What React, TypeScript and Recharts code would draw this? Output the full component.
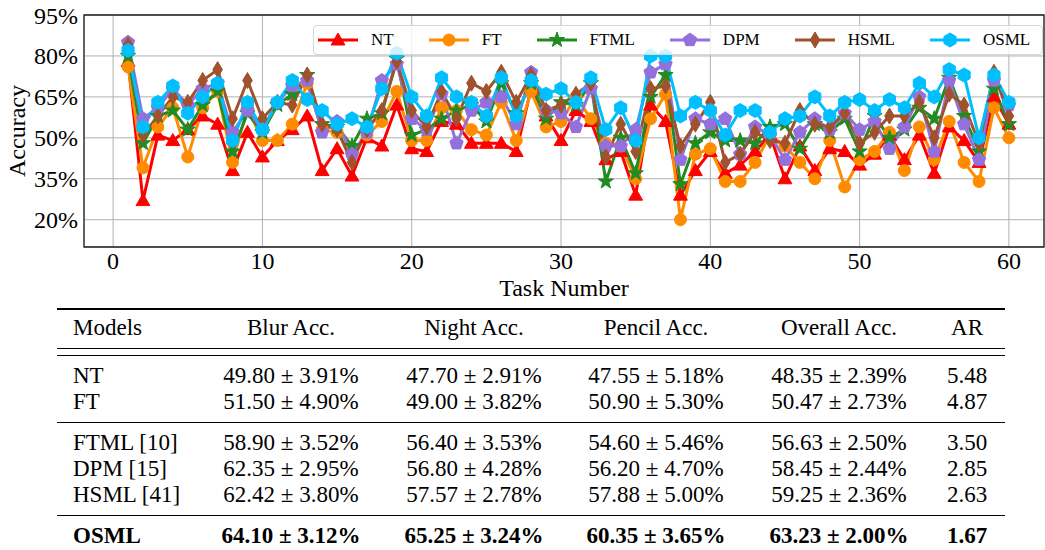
import React from "react";
import {
  LineChart,
  Line,
  XAxis,
  YAxis,
  CartesianGrid,
  ReferenceArea,
  Label,
} from "recharts";

// task index on the x axis
const tasks = [
  1, 2, 3, 4, 5, 6, 7, 8, 9, 10, 11, 12, 13, 14, 15, 16, 17, 18, 19, 20, 21,
  22, 23, 24, 25, 26, 27, 28, 29, 30, 31, 32, 33, 34, 35, 36, 37, 38, 39, 40,
  41, 42, 43, 44, 45, 46, 47, 48, 49, 50, 51, 52, 53, 54, 55, 56, 57, 58, 59,
  60,
];

// accuracy (%) per task
const ntAcc = [
  78, 27, 51, 49, 53, 58, 55, 38, 52, 43, 49, 53, 58, 38, 46, 36, 50, 47, 62,
  46, 45, 56, 55, 48, 48, 48, 45, 68, 58, 49, 60, 56, 42, 45, 29, 62, 56, 29,
  38, 45, 37, 40, 45, 51, 35, 47, 38, 46, 45, 40, 44, 51, 42, 51, 37, 54, 49,
  41, 65, 55,
];
const ftAcc = [
  76, 39, 54, 61, 43, 61, 67, 41, 61, 49, 49, 55, 70, 53, 52, 44, 51, 56, 67,
  49, 49, 61, 60, 53, 51, 63, 49, 67, 54, 56, 65, 57, 48, 47, 35, 57, 66, 20,
  44, 46, 34, 34, 41, 51, 47, 41, 35, 49, 32, 42, 45, 52, 38, 54, 42, 56, 41,
  34, 61, 50,
];
const ftmlAcc = [
  80, 48, 58, 60, 53, 62, 67, 45, 59, 52, 62, 66, 73, 55, 54, 47, 57, 59, 79,
  51, 53, 57, 60, 62, 56, 70, 59, 70, 57, 63, 62, 70, 34, 50, 37, 65, 73, 33,
  48, 52, 49, 49, 48, 54, 55, 46, 55, 52, 57, 45, 58, 50, 53, 61, 57, 72, 58,
  45, 68, 55,
];
const dpmAcc = [
  85, 57, 61, 68, 62, 68, 70, 52, 60, 53, 63, 69, 71, 52, 56, 44, 52, 71, 77,
  57, 53, 66, 48, 60, 63, 65, 55, 74, 60, 59, 54, 68, 47, 47, 53, 74, 77, 42,
  57, 55, 57, 44, 54, 51, 42, 52, 57, 53, 59, 53, 56, 46, 54, 65, 45, 71, 55,
  42, 71, 62,
];
const hsmlAcc = [
  84, 51, 58, 65, 63, 71, 75, 57, 71, 57, 63, 62, 73, 55, 53, 41, 53, 60, 78,
  60, 54, 67, 57, 70, 67, 74, 63, 73, 60, 62, 66, 70, 43, 55, 45, 68, 69, 47,
  55, 63, 41, 44, 52, 49, 48, 60, 55, 54, 59, 48, 52, 58, 58, 63, 50, 66, 62,
  48, 74, 58,
];
const osmlAcc = [
  82, 54, 63, 69, 59, 65, 70, 49, 63, 53, 63, 71, 64, 60, 55, 57, 54, 68, 81,
  65, 58, 72, 65, 63, 58, 72, 58, 71, 66, 68, 63, 72, 53, 61, 49, 80, 80, 58,
  63, 60, 51, 60, 60, 52, 57, 58, 65, 58, 63, 64, 60, 64, 61, 70, 65, 75, 73,
  50, 73, 63,
];

const xTicks = [0, 10, 20, 30, 40, 50, 60];
const yTicks = [20, 35, 50, 65, 80, 95];

// table below the chart
const tableHeader = ["Models", "Blur Acc.", "Night Acc.", "Pencil Acc.", "Overall Acc.", "AR"];
const tableModels = ["NT", "FT", "FTML [10]", "DPM [15]", "HSML [41]", "OSML"];
const blurCol = ["49.80 ± 3.91%", "51.50 ± 4.90%", "58.90 ± 3.52%", "62.35 ± 2.95%", "62.42 ± 3.80%", "64.10 ± 3.12%"];
const nightCol = ["47.70 ± 2.91%", "49.00 ± 3.82%", "56.40 ± 3.53%", "56.80 ± 4.28%", "57.57 ± 2.78%", "65.25 ± 3.24%"];
const pencilCol = ["47.55 ± 5.18%", "50.90 ± 5.30%", "54.60 ± 5.46%", "56.20 ± 4.70%", "57.88 ± 5.00%", "60.35 ± 3.65%"];
const overallCol = ["48.35 ± 2.39%", "50.47 ± 2.73%", "56.63 ± 2.50%", "58.45 ± 2.44%", "59.25 ± 2.36%", "63.23 ± 2.00%"];
const arCol = ["5.48", "4.87", "3.50", "2.85", "2.63", "1.67"];

const series = [
  { key: "NT", values: ntAcc, color: "#ff0000", shape: "triangle" },
  { key: "FT", values: ftAcc, color: "#ff8c00", shape: "circle" },
  { key: "FTML", values: ftmlAcc, color: "#228b22", shape: "star" },
  { key: "DPM", values: dpmAcc, color: "#9370db", shape: "pentagon" },
  { key: "HSML", values: hsmlAcc, color: "#a0522d", shape: "diamond" },
  { key: "OSML", values: osmlAcc, color: "#00bfff", shape: "hexagon" },
];

const chartData = tasks.map((t, i) => {
  const row: any = { task: t };
  series.forEach((s) => (row[s.key] = s.values[i]));
  return row;
});

const FONT = "'Liberation Serif', 'Times New Roman', serif";

function polyPoints(cx: number, cy: number, r: number, n: number) {
  const pts = [];
  for (let k = 0; k < n; k++) {
    const a = -Math.PI / 2 + (k * 2 * Math.PI) / n;
    pts.push(`${cx + r * Math.cos(a)},${cy + r * Math.sin(a)}`);
  }
  return pts.join(" ");
}

function starPoints(cx: number, cy: number, ro: number, ri: number) {
  const pts = [];
  for (let k = 0; k < 10; k++) {
    const a = -Math.PI / 2 + (k * Math.PI) / 5;
    const r = k % 2 === 0 ? ro : ri;
    pts.push(`${cx + r * Math.cos(a)},${cy + r * Math.sin(a)}`);
  }
  return pts.join(" ");
}

function Marker({ shape, cx, cy, color }: any) {
  if (cx == null || cy == null) return null;
  const paint = { fill: color, stroke: color, strokeWidth: 1 };
  switch (shape) {
    case "circle":
      return <circle cx={cx} cy={cy} r={6} {...paint} />;
    case "triangle":
      return <polygon points={polyPoints(cx, cy + 1, 8, 3)} {...paint} />;
    case "star":
      return <polygon points={starPoints(cx, cy, 8, 3.2)} {...paint} />;
    case "pentagon":
      return <polygon points={polyPoints(cx, cy, 7, 5)} {...paint} />;
    case "diamond":
      return (
        <polygon
          points={`${cx},${cy - 8} ${cx + 4.8},${cy} ${cx},${cy + 8} ${cx - 4.8},${cy}`}
          {...paint}
        />
      );
    default:
      return <polygon points={polyPoints(cx, cy, 7, 6)} {...paint} />;
  }
}

function LegendBox() {
  return (
    <div
      style={{
        position: "absolute",
        left: 313,
        top: 25,
        width: 730,
        height: 30,
        boxSizing: "border-box",
        border: "1px solid #d6d6d6",
        borderRadius: 4,
        background: "rgba(255,255,255,0.8)",
        display: "flex",
        alignItems: "center",
        paddingLeft: 4,
        fontFamily: FONT,
        fontSize: 17,
      }}
    >
      {series.map((s, i) => (
        <div
          key={s.key}
          style={{ display: "flex", alignItems: "center", marginLeft: i === 0 ? 0 : 35 }}
        >
          <svg width={40} height={20}>
            <line x1={0} y1={10} x2={40} y2={10} stroke={s.color} strokeWidth={3} />
            <Marker shape={s.shape} cx={20} cy={10} color={s.color} />
          </svg>
          <span style={{ marginLeft: 13 }}>{s.key}</span>
        </div>
      ))}
    </div>
  );
}

function ResultsTable() {
  const colX = [291, 474, 656, 839, 967];
  const rowY = [376, 402, 443, 469, 495, 536];
  const cols = [blurCol, nightCol, pencilCol, overallCol, arCol];
  const cell = (text: string, x: number, y: number, bold: boolean, left = false) => (
    <div
      key={`${text}-${x}-${y}`}
      style={{
        position: "absolute",
        left: left ? x : x - 120,
        width: left ? 200 : 240,
        top: y - 15,
        height: 30,
        lineHeight: "30px",
        textAlign: left ? "left" : "center",
        fontWeight: bold ? "bold" : "normal",
        whiteSpace: "nowrap",
      }}
    >
      {text}
    </div>
  );
  const rule = (y: number, h: number) => (
    <div
      key={`rule-${y}`}
      style={{ position: "absolute", left: 57, width: 948, top: y, height: h, background: "#000" }}
    />
  );
  return (
    <div style={{ position: "absolute", left: 0, top: 0, fontFamily: FONT, fontSize: 23 }}>
      {rule(308, 2)}
      {rule(348, 1.3)}
      {rule(355, 1.3)}
      {rule(422, 1.3)}
      {rule(515, 1.3)}
      {cell(tableHeader[0], 73, 328, false, true)}
      {tableHeader.slice(1).map((h, j) => cell(h, colX[j], 328, false))}
      {tableModels.map((m, i) => (
        <React.Fragment key={m}>
          {cell(m, 73, rowY[i], i === 5, true)}
          {cols.map((c, j) => cell(c[i], colX[j], rowY[i], i === 5))}
        </React.Fragment>
      ))}
    </div>
  );
}

export default function App() {
  const tickStyle = { fill: "#000", fontSize: 24, fontFamily: FONT };
  return (
    <div
      style={{
        position: "absolute",
        left: 0,
        top: 0,
        width: 1045,
        height: 550,
        background: "#fff",
        fontFamily: FONT,
      }}
    >
      <LineChart
        width={1045}
        height={300}
        data={chartData}
        margin={{ top: 15, right: 1, bottom: 0, left: 0 }}
      >
        <CartesianGrid stroke="#b0b0b0" strokeWidth={1} />
        <XAxis
          dataKey="task"
          type="number"
          domain={[-1.95, 62.35]}
          ticks={xTicks}
          allowDataOverflow
          height={53}
          tick={tickStyle}
          tickLine={false}
          tickSize={4}
          tickMargin={1}
          axisLine={false}
        >
          <Label
            value="Task Number"
            position="insideBottom"
            offset={4}
            style={{ fill: "#000", fontSize: 24, fontFamily: FONT }}
          />
        </XAxis>
        <YAxis
          type="number"
          domain={[10, 95]}
          ticks={yTicks}
          allowDataOverflow
          width={84}
          tick={tickStyle}
          tickLine={false}
          tickSize={4}
          tickMargin={2}
          axisLine={false}
          tickFormatter={(v) => `${v}%`}
        >
          <Label
            content={({ viewBox }: any) => {
              const cx = 17;
              const cy = viewBox.y + viewBox.height / 2;
              return (
                <text
                  x={cx}
                  y={cy}
                  transform={`rotate(-90 ${cx} ${cy})`}
                  textAnchor="middle"
                  dominantBaseline="central"
                  style={{ fill: "#000", fontSize: 24, fontFamily: FONT }}
                >
                  Accuracy
                </text>
              );
            }}
          />
        </YAxis>
        <ReferenceArea
          x1={-1.95}
          x2={62.35}
          y1={10}
          y2={95}
          fill="none"
          stroke="#222"
          strokeWidth={1.3}
        />
        {series.map((s) => (
          <Line
            key={s.key}
            dataKey={s.key}
            type="linear"
            stroke={s.color}
            strokeWidth={3}
            isAnimationActive={false}
            activeDot={false}
            dot={(p: any) => (
              <Marker
                key={`${s.key}-${p.index}`}
                shape={s.shape}
                cx={p.cx}
                cy={p.cy}
                color={s.color}
              />
            )}
          />
        ))}
      </LineChart>
      <LegendBox />
      <ResultsTable />
    </div>
  );
}
